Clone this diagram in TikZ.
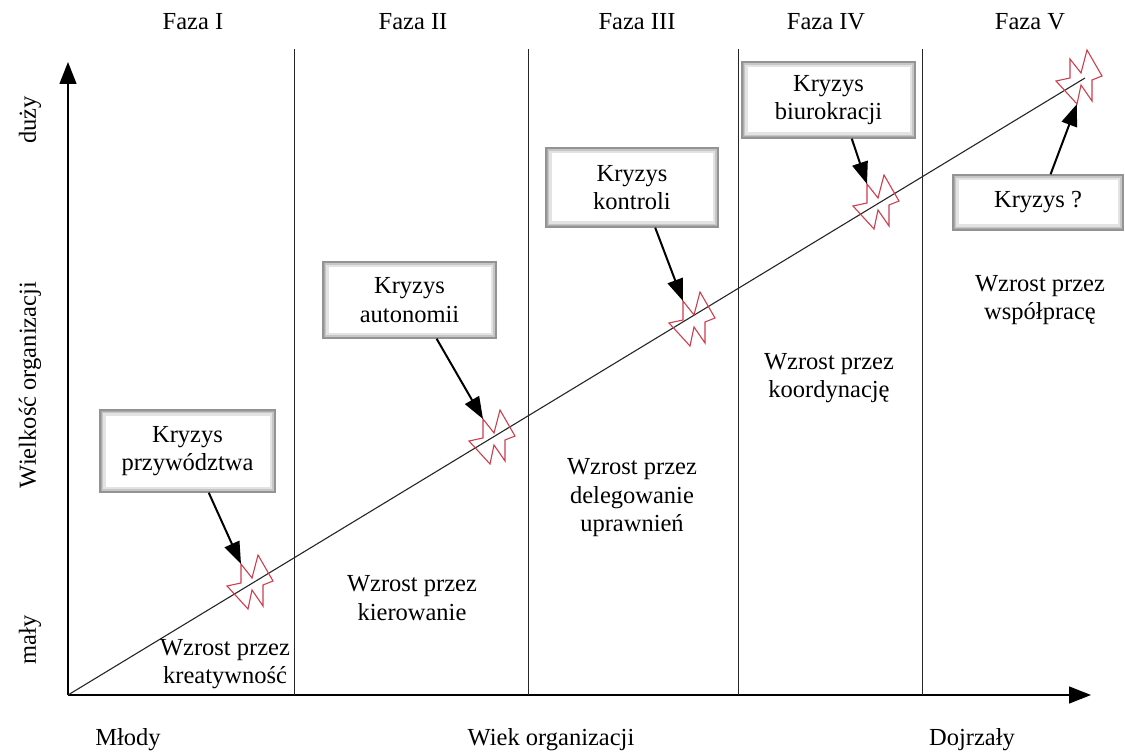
\documentclass[tikz,border=0pt]{standalone}
\usepackage{fontspec}
\setmainfont{Liberation Serif}
\usetikzlibrary{arrows.meta}
\definecolor{crisisred}{RGB}{205,62,78}
\begin{document}
\begin{tikzpicture}[x=1pt,y=-1pt,
  txt/.style={font=\fontsize{24.5}{28.5}\selectfont, align=center, inner sep=0pt},
  phaseline/.style={line width=0.9pt, black!85},
  axis/.style={line width=1.4pt, -{Triangle[length=22pt,width=17pt]}},
  crisisbox/.style={txt, draw=gray!85, line width=1.4pt, fill=white,
    minimum width=172pt, inner sep=0pt,
    path picture={
      \draw[gray!22, line width=11pt] (path picture bounding box.south west) rectangle (path picture bounding box.north east);
      \draw[gray!45, line width=6pt] (path picture bounding box.south west) rectangle (path picture bounding box.north east);
      \draw[gray!65, line width=3pt] (path picture bounding box.south west) rectangle (path picture bounding box.north east);}},
  crisisarrow/.style={line width=2pt, -{Triangle[length=22pt,width=16pt]}},
  crisisline/.style={draw=crisisred, line width=1.1pt, line join=miter},
  pics/crisis/.style={code={
    % two interleaved zigzags forming the crisis flash
    \draw[crisisline] (-23,4) -- (-9,1) -- (-9,-18) -- (2,-4) -- (8,-27) -- (23,-1)
      -- (13,3) -- (13,24) -- (2,8) -- (-2,27) -- cycle;
    \coordinate (-top) at (-9,-18);
    \coordinate (-bottom) at (-2,27);
  }}]
\useasboundingbox (0,0) rectangle (1125,754);

% axes
\coordinate (O) at (68,695);
\coordinate (ytip) at (68,62);
\coordinate (xtip) at (1091,695);
\draw[axis] (O) -- (ytip);
\draw[axis] (O) -- (xtip);

% phase separators
\foreach \x/\n in {294/a,528/b,738/c,922/d}{
  \coordinate (top\n) at (\x,49);
  \coordinate (bot\n) at (\x,695);
  \draw[phaseline] (top\n) -- (bot\n);
}

% growth line
\coordinate (gend) at (1085,78);
\draw[line width=1.1pt, black!85] (O) -- (gend);

% phase titles
\node[txt] (f1) at (193,22) {Faza I};
\node[txt] (f2) at (413,22) {Faza II};
\node[txt] (f3) at (637,22) {Faza III};
\node[txt] (f4) at (826,22) {Faza IV};
\node[txt] (f5) at (1030,22) {Faza V};

% axis labels
\node[txt, rotate=90] (ybig) at (30,120) {duży};
\node[txt, rotate=90] (ylab) at (30,385) {Wielkość organizacji};
\node[txt, rotate=90] (ysmall) at (30,640) {mały};
\node[txt] (xyoung) at (128,740) {Młody};
\node[txt] (xlab) at (551,740) {Wiek organizacji};
\node[txt] (xmature) at (972,740) {Dojrzały};

% growth stages
\node[txt] (g1) at (225,664) {Wzrost przez\\kreatywność};
\node[txt] (g2) at (412,598) {Wzrost przez\\kierowanie};
\node[txt] (g3) at (632,498) {Wzrost przez\\delegowanie\\uprawnień};
\node[txt] (g4) at (829,378) {Wzrost przez\\koordynację};
\node[txt] (g5) at (1040,300) {Wzrost przez\\współpracę};

% crisis marks
\pic (c1) at (250,582) {crisis};
\pic (c2) at (492,437) {crisis};
\pic (c3) at (692,319) {crisis};
\pic (c4) at (876,202) {crisis};
\pic (c5) at (1079,77) {crisis};

% crisis boxes
\node[crisisbox, minimum width=175pt, minimum height=82pt] (k1) at (187.5,451) {Kryzys\\przywództwa};
\node[crisisbox, minimum width=173pt, minimum height=76pt] (k2) at (409.5,300) {Kryzys\\autonomii};
\node[crisisbox, minimum width=172pt, minimum height=79pt] (k3) at (632,187.5) {Kryzys\\kontroli};
\node[crisisbox, minimum width=173pt, minimum height=76pt] (k4) at (828.5,100) {Kryzys\\biurokracji};
\node[crisisbox, minimum width=170pt, minimum height=55pt] (k5) at (1038,202.5) {Kryzys ?};

% arrows to the crises
\draw[crisisarrow] (k1.-63) -- (c1-top);
\draw[crisisarrow] (k2.-55) -- (c2-top);
\draw[crisisarrow] (k3.-60) -- (c3-top);
\draw[crisisarrow] (k4.-59) -- (c4-top);
\draw[crisisarrow] (k5.66) -- (c5-bottom);
\end{tikzpicture}
\end{document}
